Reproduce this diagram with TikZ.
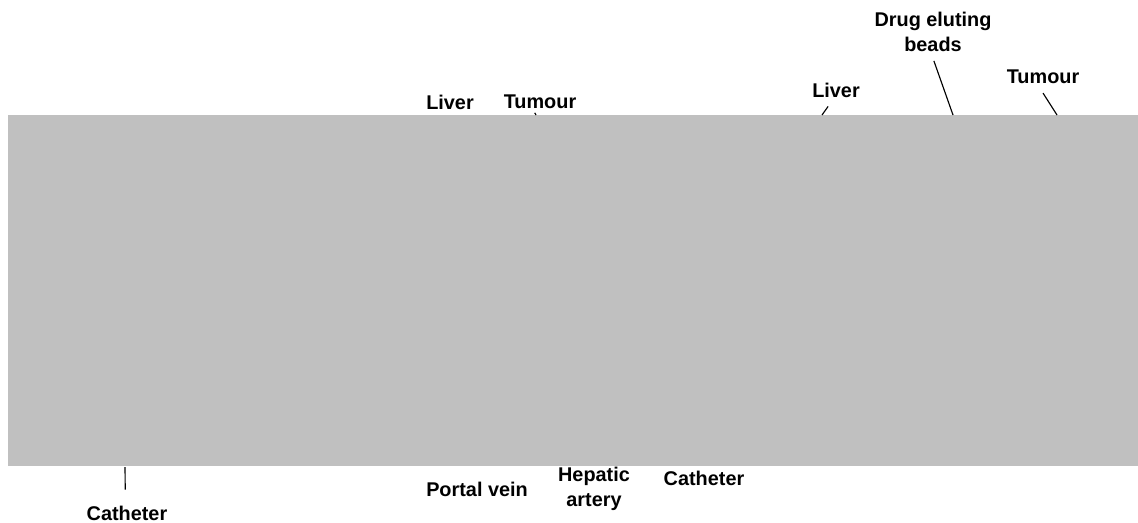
\documentclass[tikz,border=0pt]{standalone}
\usepackage{fontspec}
\setmainfont{Liberation Sans}
\definecolor{taceGray}{HTML}{C0C0C0}
\definecolor{taceInk}{HTML}{000000}
\tikzset{
  tace panel/.style={fill=taceGray, draw=none},
  tace label/.style={font=\bfseries\fontsize{11.3}{14.2}\selectfont, text=taceInk, inner sep=0pt, align=center},
  tace lead/.style={draw=taceInk, line width=0.65pt},
}
\begin{document}
\begin{tikzpicture}[x=0.02cm, y=-0.02cm]
  \useasboundingbox (0,0) rectangle (1138,522);

  % Image panel
  \path[tace panel] (8,115) rectangle (1138,466);

  % Labels above the panel
  \node[tace label] (liverL) at (450,102) {Liver};
  \node[tace label] (tumourL) at (540,102) {Tumour};
  \node[tace label] (liverR) at (836,90) {Liver};
  \node[tace label] (beads) at (933,32) {Drug eluting\\beads};
  \node[tace label] (tumourR) at (1043,77) {Tumour};

  % Labels below the panel
  \node[tace label] (cathL) at (127,513) {Catheter};
  \node[tace label] (portal) at (477,489) {Portal vein};
  \node[tace label] (hepatic) at (594,489) {Hepatic\\artery};
  \node[tace label] (cathM) at (704,478) {Catheter};

  % Leader ends on the panel
  \coordinate (tumourLtip) at (536,115);
  \coordinate (liverRtip) at (822,115);
  \coordinate (beadstip) at (953,115);
  \coordinate (tumourRtip) at (1057,115);
  \coordinate (cathLtip) at (125,467);

  % Leaders
  \draw[tace lead] ([xshift=-3pt,yshift=-2pt]tumourL.south) -- (tumourLtip);
  \draw[tace lead] ([xshift=-4.5pt,yshift=-5pt]liverR.south) -- (liverRtip);
  \draw[tace lead] ([xshift=0.5pt,yshift=-5pt]beads.south) -- (beadstip);
  \draw[tace lead] ([yshift=-5pt]tumourR.south) -- (tumourRtip);
  \draw[tace lead] ([xshift=-1pt,yshift=9pt]cathL.north) -- (cathLtip);
\end{tikzpicture}
\end{document}
